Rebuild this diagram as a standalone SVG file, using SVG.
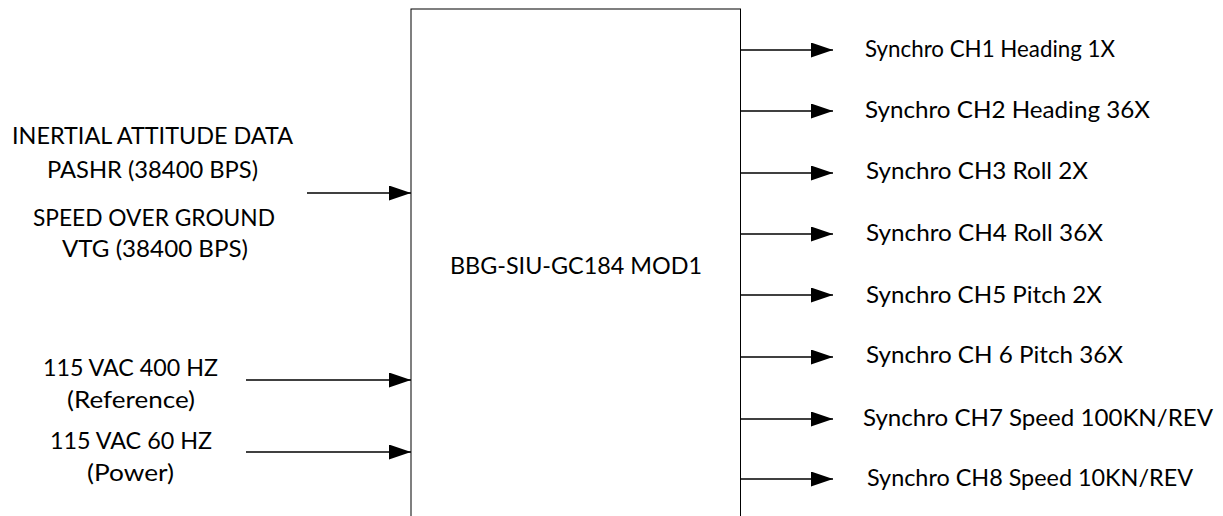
<svg xmlns="http://www.w3.org/2000/svg" width="1223" height="516" viewBox="0 0 1223 516">
<style>
text{font-family:Lato,"Liberation Sans",sans-serif;font-size:23.5px;fill:#000}
.c{text-anchor:middle}
.ln{stroke:#000;stroke-width:1.6;fill:none;marker-end:url(#ah)}
</style>
<defs>
<marker id="ah" markerUnits="userSpaceOnUse" markerWidth="24" markerHeight="16" refX="22" refY="7.5" orient="auto">
<path d="M0,0 L22,7.5 L0,15 Z" fill="#000"/>
</marker>
</defs>
<rect width="1223" height="516" fill="#fff"/>
<g id="main-unit">
<rect x="411" y="9" width="329.5" height="520" fill="#fff" stroke="#000" stroke-width="1"/>
<text x="576" y="274" class="c" textLength="252" lengthAdjust="spacingAndGlyphs">BBG-SIU-GC184 MOD1</text>
</g>
<g id="input-serial">
<text x="152.5" y="144" class="c" textLength="281" lengthAdjust="spacingAndGlyphs">INERTIAL ATTITUDE DATA</text>
<text x="152.5" y="178" class="c" textLength="211" lengthAdjust="spacingAndGlyphs">PASHR (38400 BPS)</text>
<text x="154" y="226" class="c" textLength="242" lengthAdjust="spacingAndGlyphs">SPEED OVER GROUND</text>
<text x="155" y="257" class="c" textLength="186" lengthAdjust="spacingAndGlyphs">VTG (38400 BPS)</text>
</g>
<g id="input-ref">
<text x="130.5" y="376" class="c" textLength="175" lengthAdjust="spacingAndGlyphs">115 VAC 400 HZ</text>
<text x="131" y="408" class="c" textLength="128" lengthAdjust="spacingAndGlyphs">(Reference)</text>
</g>
<g id="input-power">
<text x="131" y="449" class="c" textLength="162" lengthAdjust="spacingAndGlyphs">115 VAC 60 HZ</text>
<text x="130.5" y="481" class="c" textLength="87" lengthAdjust="spacingAndGlyphs">(Power)</text>
</g>
<g id="outputs">
<text x="865" y="57" textLength="250" lengthAdjust="spacingAndGlyphs">Synchro CH1 Heading 1X</text>
<text x="865" y="118" textLength="285" lengthAdjust="spacingAndGlyphs">Synchro CH2 Heading 36X</text>
<text x="866" y="179" textLength="222" lengthAdjust="spacingAndGlyphs">Synchro CH3 Roll 2X</text>
<text x="866" y="241" textLength="237" lengthAdjust="spacingAndGlyphs">Synchro CH4 Roll 36X</text>
<text x="866" y="303" textLength="236" lengthAdjust="spacingAndGlyphs">Synchro CH5 Pitch 2X</text>
<text x="866" y="363" textLength="257" lengthAdjust="spacingAndGlyphs">Synchro CH 6 Pitch 36X</text>
<text x="863" y="426" textLength="350" lengthAdjust="spacingAndGlyphs">Synchro CH7 Speed 100KN/REV</text>
<text x="867" y="486" textLength="326" lengthAdjust="spacingAndGlyphs">Synchro CH8 Speed 10KN/REV</text>
</g>
<g id="connectors">
<line class="ln" x1="307" y1="193" x2="411" y2="193"/>
<line class="ln" x1="246" y1="380" x2="411" y2="380"/>
<line class="ln" x1="246" y1="452" x2="411" y2="452"/>
<line class="ln" x1="741" y1="50" x2="833" y2="50"/>
<line class="ln" x1="741" y1="111" x2="833" y2="111"/>
<line class="ln" x1="741" y1="173" x2="833" y2="173"/>
<line class="ln" x1="741" y1="234" x2="833" y2="234"/>
<line class="ln" x1="741" y1="295" x2="833" y2="295"/>
<line class="ln" x1="741" y1="357" x2="833" y2="357"/>
<line class="ln" x1="741" y1="419" x2="833" y2="419"/>
<line class="ln" x1="741" y1="479" x2="833" y2="479"/>
</g>
</svg>
